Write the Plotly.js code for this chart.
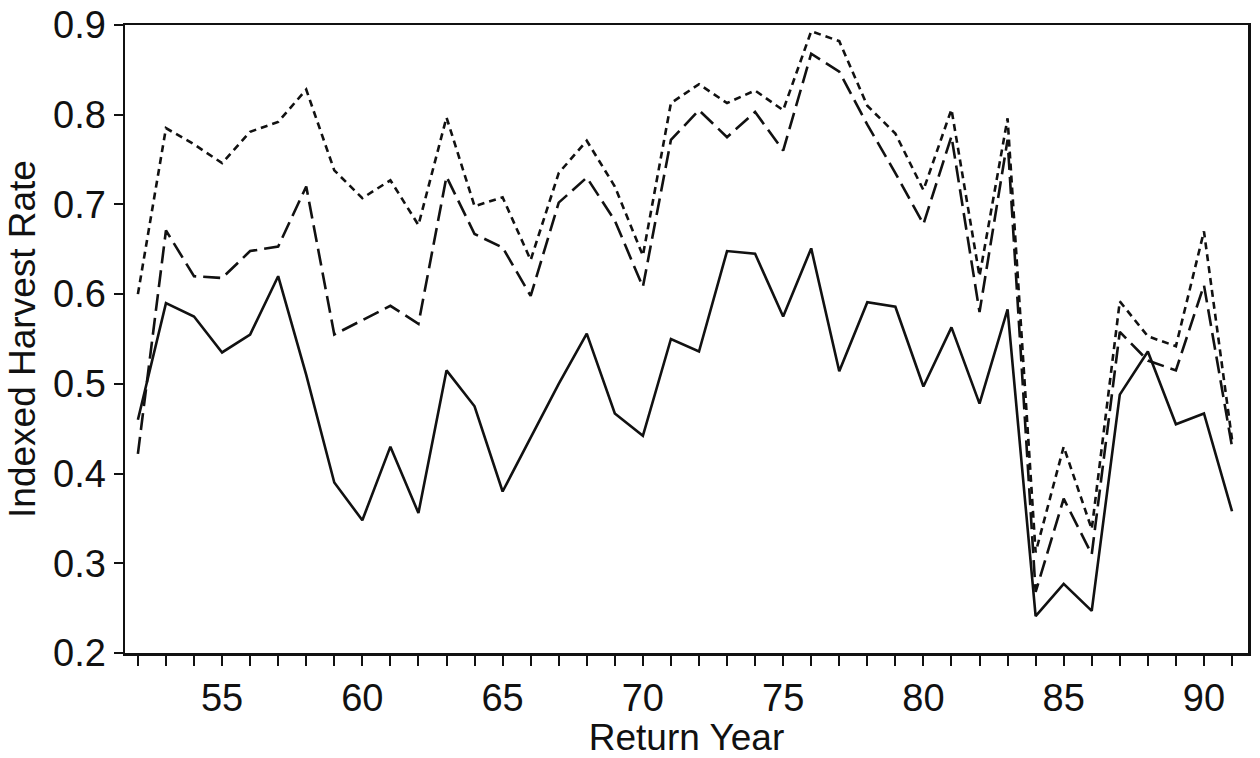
<!DOCTYPE html>
<html>
<head>
<meta charset="utf-8">
<script src="https://cdn.plot.ly/plotly-3.0.1.min.js"></script>
<style>
  html, body { margin: 0; padding: 0; background: #fff; }
  #chart { width: 1260px; height: 758px; }
</style>
</head>
<body>
<div id="chart"></div>
<script>
// Return years (19xx)
const years = [52,53,54,55,56,57,58,59,60,61,62,63,64,65,66,67,68,69,70,71,
               72,73,74,75,76,77,78,79,80,81,82,83,84,85,86,87,88,89,90,91];

// Solid line
const solidSeries = [0.46,0.59,0.575,0.535,0.555,0.62,0.51,0.39,0.348,0.43,
                     0.356,0.515,0.475,0.38,0.44,0.50,0.556,0.467,0.442,0.55,
                     0.536,0.648,0.645,0.575,0.651,0.514,0.591,0.586,0.497,0.563,
                     0.478,0.583,0.241,0.277,0.247,0.488,0.536,0.455,0.467,0.358];

// Long-dashed line
const dashedSeries = [0.422,0.671,0.62,0.618,0.648,0.653,0.72,0.555,0.571,0.587,
                      0.567,0.731,0.667,0.652,0.598,0.702,0.73,0.682,0.608,0.772,
                      0.805,0.775,0.803,0.76,0.868,0.848,0.789,0.735,0.678,0.776,
                      0.58,0.772,0.268,0.372,0.31,0.558,0.526,0.515,0.61,0.43];

// Short-dashed (dotted) line
const dottedSeries = [0.60,0.785,0.767,0.746,0.781,0.792,0.828,0.738,0.707,0.727,
                      0.677,0.797,0.698,0.708,0.638,0.735,0.771,0.72,0.643,0.813,
                      0.834,0.813,0.827,0.805,0.893,0.882,0.81,0.779,0.716,0.806,
                      0.62,0.796,0.312,0.43,0.338,0.592,0.553,0.542,0.67,0.438];

const xTickVals = years;
const xTickText = years.map(y => (y % 5 === 0 ? String(y) : ''));
const yTickVals = [0.2,0.3,0.4,0.5,0.6,0.7,0.8,0.9];
const xLabel = 'Return Year';
const yLabel = 'Indexed Harvest Rate';

const FONT = '"Liberation Sans", Arial, Helvetica, sans-serif';

const traces = [
  {x: years, y: dottedSeries, mode: 'lines', type: 'scatter',
   line: {color: '#111', width: 2.6, dash: '7px,5px'}},
  {x: years, y: dashedSeries, mode: 'lines', type: 'scatter',
   line: {color: '#111', width: 2.6, dash: '17px,7px'}},
  {x: years, y: solidSeries, mode: 'lines', type: 'scatter',
   line: {color: '#111', width: 2.6}}
];

const layout = {
  width: 1260, height: 758,
  margin: {l: 125, r: 12, t: 25, b: 105},
  paper_bgcolor: '#fff', plot_bgcolor: '#fff',
  showlegend: false,
  font: {family: FONT, color: '#111'},
  xaxis: {
    range: [51.54, 91.57],
    tickmode: 'array', tickvals: xTickVals, ticktext: xTickText,
    ticks: 'outside', ticklen: 10, tickwidth: 2, tickcolor: '#111',
    showline: true, linewidth: 2.5, linecolor: '#111', mirror: true,
    showgrid: false, zeroline: false,
    tickfont: {size: 38, family: FONT, color: '#111'},
    title: {text: xLabel, font: {size: 37, family: FONT, color: '#111'}, standoff: 4}
  },
  yaxis: {
    range: [0.2, 0.9],
    tickmode: 'array', tickvals: yTickVals,
    ticktext: yTickVals.map(v => v.toFixed(1)),
    ticks: 'outside', ticklen: 9, tickwidth: 2, tickcolor: '#111',
    showline: true, linewidth: 2.5, linecolor: '#111', mirror: true,
    showgrid: false, zeroline: false,
    tickfont: {size: 38, family: FONT, color: '#111'},
    title: {text: yLabel, font: {size: 37, family: FONT, color: '#111'}, standoff: 6}
  }
};

Plotly.newPlot('chart', traces, layout, {staticPlot: true, displayModeBar: false});
</script>
</body>
</html>
